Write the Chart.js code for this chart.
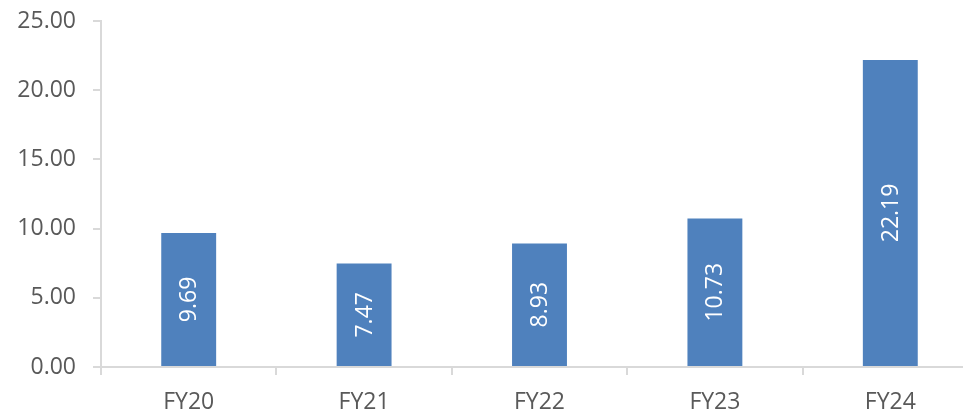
<!DOCTYPE html>
<html>
<head>
<meta charset="utf-8">
<script src="https://cdn.jsdelivr.net/npm/chart.js@4/dist/chart.umd.min.js"></script>
<style>
  html, body { margin: 0; padding: 0; background: #fff; overflow: hidden; }
  #wrap { width: 963px; height: 413px; overflow: hidden; }
</style>
</head>
<body>
<div id="wrap"><canvas id="chart" width="980" height="413"></canvas></div>
<script>
const years = ["FY20", "FY21", "FY22", "FY23", "FY24"];
const values = [9.69, 7.47, 8.93, 10.73, 22.19];
const yTicks = [0, 5, 10, 15, 20, 25];

const axisGrey = "#d9d9d9";
const textGrey = "#595959";
const font = { family: "'Open Sans', 'Noto Sans', sans-serif", size: 23 };

// white rotated value labels, centred inside each bar
const barLabels = {
    id: "barLabels",
    afterDatasetsDraw(chart) {
        const ctx = chart.ctx;
        const meta = chart.getDatasetMeta(0);
        ctx.save();
        ctx.fillStyle = "#ffffff";
        ctx.font = `${font.size}px ${font.family}`;
        ctx.textAlign = "center";
        ctx.textBaseline = "middle";
        meta.data.forEach((bar, i) => {
            const midY = (bar.y + bar.base) / 2;
            ctx.save();
            ctx.translate(bar.x, midY);
            ctx.rotate(-Math.PI / 2);
            ctx.fillText(values[i].toFixed(2), 0, 1);
            ctx.restore();
        });
        ctx.restore();
    }
};

new Chart(document.getElementById("chart"), {
    type: "bar",
    data: {
        labels: years,
        datasets: [{
            data: values,
            backgroundColor: "#4f81bd",
            categoryPercentage: 1,
            barPercentage: 0.313
        }]
    },
    options: {
        responsive: false,
        animation: false,
        layout: { padding: { top: 21, right: 2, left: 0, bottom: 0 } },
        plugins: { legend: { display: false }, tooltip: { enabled: false } },
        scales: {
            x: {
                offset: true,
                grid: { offset: true, drawOnChartArea: false, color: axisGrey, tickLength: 8, lineWidth: 2 },
                border: { color: axisGrey, width: 2 },
                ticks: { color: textGrey, font: font, padding: 14 },
                afterFit(scale) { scale.height = 46; scale.paddingLeft = 0; scale.paddingRight = 0; }
            },
            y: {
                min: 0,
                max: 25,
                afterBuildTicks(scale) { scale.ticks = yTicks.map(v => ({ value: v })); },
                grid: { drawOnChartArea: false, color: axisGrey, tickLength: 8, lineWidth: 2 },
                border: { color: axisGrey, width: 2 },
                ticks: { color: textGrey, font: font, padding: 17, callback: v => v.toFixed(2) },
                afterFit(scale) { scale.width = 101; scale.paddingTop = 0; scale.paddingBottom = 0; }
            }
        }
    },
    plugins: [barLabels]
});
</script>
</body>
</html>
